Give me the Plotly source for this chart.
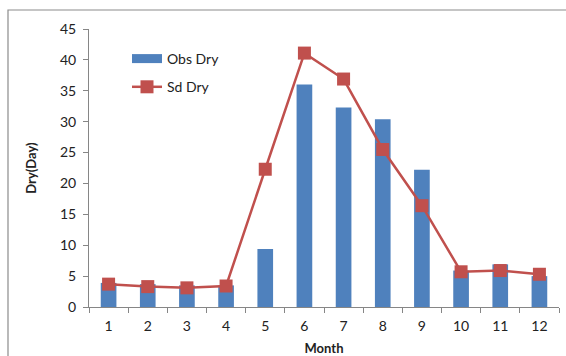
import plotly.graph_objects as go

months = ["1", "2", "3", "4", "5", "6", "7", "8", "9", "10", "11", "12"]
obs_dry = [3.9, 3.7, 3.5, 3.5, 9.4, 36.0, 32.3, 30.4, 22.2, 5.9, 6.9, 5.0]
sd_dry = [3.7, 3.3, 3.1, 3.4, 22.3, 41.1, 36.9, 25.5, 16.4, 5.7, 5.9, 5.3]

W, H = 566, 356
ML, MR, MT, MB = 89, 7, 29, 49
PW, PH = W - ML - MR, H - MT - MB

font_family = "Lato, 'Open Sans', sans-serif"
axis_col = "#868686"
bar_col = "#4F81BD"
line_col = "#C0504D"

fig = go.Figure()
fig.add_trace(go.Bar(
    x=months, y=obs_dry, name="Obs Dry",
    marker=dict(color=bar_col, line=dict(width=0)),
    width=0.4, showlegend=False,
))
# wide rectangular legend key for the bar series
fig.add_trace(go.Scatter(
    x=[None], y=[None], name="Obs Dry", mode="lines",
    line=dict(color=bar_col, width=9), legendgroup="a",
))
fig.add_trace(go.Scatter(
    x=months, y=sd_dry, name="Sd Dry", mode="lines+markers",
    line=dict(color=line_col, width=2.5),
    marker=dict(symbol="square", size=13, color=line_col),
    legendgroup="b",
))

# outer chart frame
def px_x(p):
    return (p - ML) / PW

def px_y(p):
    return (H - MB - p) / PH

fig.add_shape(type="rect", xref="paper", yref="paper",
              x0=px_x(8), x1=px_x(580), y0=px_y(370), y1=px_y(10),
              line=dict(color="#8c8c8c", width=1.2), fillcolor="rgba(0,0,0,0)",
              layer="below")

fig.update_layout(
    width=W, height=H,
    margin=dict(l=ML, r=MR, t=MT, b=MB, autoexpand=False),
    paper_bgcolor="white", plot_bgcolor="white",
    font=dict(family=font_family, size=14, color="#222"),
    showlegend=True,
    legend=dict(x=px_x(127), y=px_y(43), xanchor="left", yanchor="top",
                bgcolor="rgba(0,0,0,0)", font=dict(size=14),
                tracegroupgap=7),
    xaxis=dict(
        type="category", tickson="boundaries", ticks="outside", ticklen=5,
        tickcolor=axis_col, showline=True, linecolor=axis_col, linewidth=1,
        showgrid=False, range=[-0.5, 11.5], ticklabelstandoff=6,
        automargin=False,
        title=dict(text="<b>Month</b>", font=dict(size=13), standoff=14),
    ),
    yaxis=dict(
        range=[0, 45], dtick=5, ticks="outside", ticklen=5,
        tickcolor=axis_col, showline=True, linecolor=axis_col, linewidth=1,
        showgrid=False, zeroline=False, ticklabelstandoff=4,
        automargin=False,
        title=dict(text="<b>Dry(Day)</b>", font=dict(size=13), standoff=20),
    ),
    bargap=0.6,
)

fig.write_html("out.html")
